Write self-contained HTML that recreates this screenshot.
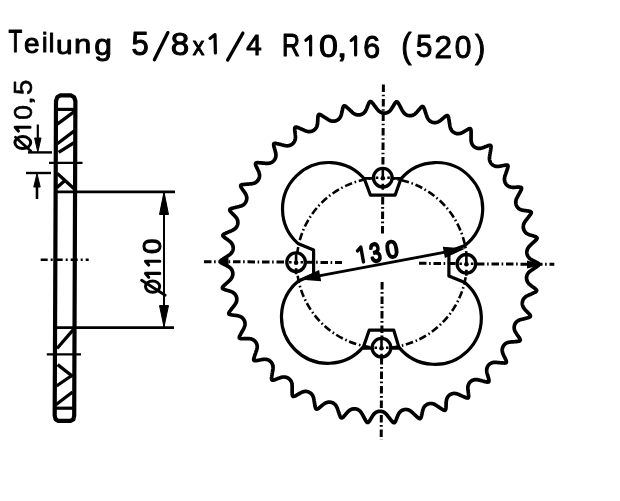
<!DOCTYPE html>
<html><head><meta charset="utf-8"><style>
html,body{margin:0;padding:0;background:#fff;}
svg{display:block;will-change:transform;}
text{font-family:"Liberation Sans",sans-serif;}
</style></head><body>
<svg width="620" height="501" viewBox="0 0 620 501">
<rect width="620" height="501" fill="#fff"/>
<g font-family="Liberation Sans" fill="#000"><text font-size="2048" transform="translate(8.50,52.30) scale(0.01097,0.01505)" stroke="#000" stroke-width="1.0" vector-effect="non-scaling-stroke" stroke-linejoin="round">T</text><text font-size="2048" transform="translate(24.01,53.04) scale(0.01363,0.01310)" stroke="#000" stroke-width="1.0" vector-effect="non-scaling-stroke" stroke-linejoin="round">e</text><text font-size="2048" transform="translate(41.93,52.10) scale(0.01222,0.01348)" stroke="#000" stroke-width="1.0" vector-effect="non-scaling-stroke" stroke-linejoin="round">i</text><text font-size="2048" transform="translate(48.71,52.10) scale(0.01222,0.01267)" stroke="#000" stroke-width="1.0" vector-effect="non-scaling-stroke" stroke-linejoin="round">l</text><text font-size="2048" transform="translate(56.06,53.84) scale(0.01460,0.01298)" stroke="#000" stroke-width="1.0" vector-effect="non-scaling-stroke" stroke-linejoin="round">u</text><text font-size="2048" transform="translate(74.04,53.10) scale(0.01517,0.01298)" stroke="#000" stroke-width="1.0" vector-effect="non-scaling-stroke" stroke-linejoin="round">n</text><text font-size="2048" transform="translate(94.16,55.46) scale(0.01553,0.01444)" stroke="#000" stroke-width="1.0" vector-effect="non-scaling-stroke" stroke-linejoin="round">g</text><text font-size="2048" transform="translate(131.56,54.78) scale(0.01514,0.01589)" stroke="#000" stroke-width="1.0" vector-effect="non-scaling-stroke" stroke-linejoin="round">5</text><text font-size="2048" transform="translate(170.66,55.19) scale(0.01623,0.01538)" stroke="#000" stroke-width="1.0" vector-effect="non-scaling-stroke" stroke-linejoin="round">8</text><text font-size="2048" transform="translate(192.84,54.70) scale(0.01134,0.01248)" stroke="#000" stroke-width="1.0" vector-effect="non-scaling-stroke" stroke-linejoin="round">x</text><text font-size="2048" transform="translate(246.36,54.70) scale(0.01357,0.01405)" stroke="#000" stroke-width="1.0" vector-effect="non-scaling-stroke" stroke-linejoin="round">4</text><text font-size="2048" transform="translate(282.06,55.50) scale(0.01217,0.01498)" stroke="#000" stroke-width="1.0" vector-effect="non-scaling-stroke" stroke-linejoin="round">R</text><text font-size="2048" transform="translate(318.97,56.50) scale(0.01665,0.01490)" stroke="#000" stroke-width="1.0" vector-effect="non-scaling-stroke" stroke-linejoin="round">0</text><text font-size="2048" transform="translate(336.43,56.71) scale(0.01940,0.01559)" stroke="#000" stroke-width="1.0" vector-effect="non-scaling-stroke" stroke-linejoin="round">,</text><text font-size="2048" transform="translate(363.36,57.79) scale(0.01481,0.01538)" stroke="#000" stroke-width="1.0" vector-effect="non-scaling-stroke" stroke-linejoin="round">6</text><text font-size="2048" transform="translate(401.28,57.83) scale(0.01510,0.01714)" stroke="#000" stroke-width="1.0" vector-effect="non-scaling-stroke" stroke-linejoin="round">(</text><text font-size="2048" transform="translate(416.03,57.30) scale(0.01432,0.01491)" stroke="#000" stroke-width="1.0" vector-effect="non-scaling-stroke" stroke-linejoin="round">5</text><text font-size="2048" transform="translate(434.51,58.20) scale(0.01543,0.01538)" stroke="#000" stroke-width="1.0" vector-effect="non-scaling-stroke" stroke-linejoin="round">2</text><text font-size="2048" transform="translate(454.83,58.39) scale(0.01461,0.01552)" stroke="#000" stroke-width="1.0" vector-effect="non-scaling-stroke" stroke-linejoin="round">0</text><text font-size="2048" transform="translate(475.02,58.17) scale(0.01510,0.01635)" stroke="#000" stroke-width="1.0" vector-effect="non-scaling-stroke" stroke-linejoin="round">)</text><path d="M210.0,38.4 L215.0,34.6 L215.4,53.0" fill="none" stroke="#000" stroke-width="3.2" stroke-linecap="round" stroke-linejoin="round"/><path d="M305.9,40.2 L310.6,36.3 L310.6,54.9" fill="none" stroke="#000" stroke-width="3.2" stroke-linecap="round" stroke-linejoin="round"/><path d="M351.2,40.4 L355.6,36.8 L355.6,55.0" fill="none" stroke="#000" stroke-width="3.2" stroke-linecap="round" stroke-linejoin="round"/><path d="M154.4,59.7 L167.9,32.6" fill="none" stroke="#000" stroke-width="3.3" stroke-linecap="round"/><path d="M227.6,60.1 L242.9,33.1" fill="none" stroke="#000" stroke-width="3.3" stroke-linecap="round"/></g>
<g stroke="#000" fill="#000"><path d="M56.0,101 L57.4,97.0 L60.5,95.3 L70.8,95.3 L74.0,97.0 L75.4,101 L74.2,415.5 L73.4,419.4 L70.5,420.8 L58.3,420.8 L55.6,419.4 L54.7,415.5 Z" fill="none" stroke-width="4.2" stroke-linejoin="round"/><line x1="56" y1="109.4" x2="75.5" y2="109.4" stroke-width="3.2" stroke-linecap="butt"/><line x1="49" y1="162.8" x2="82.5" y2="162.8" stroke-width="2.2" stroke-linecap="butt"/><line x1="56" y1="191.9" x2="175" y2="191.9" stroke-width="2.6" stroke-linecap="butt"/><line x1="55" y1="327.6" x2="174" y2="327.6" stroke-width="2.6" stroke-linecap="butt"/><line x1="46.8" y1="354.4" x2="81" y2="354.4" stroke-width="2.2" stroke-linecap="butt"/><line x1="55" y1="408.2" x2="74.5" y2="408.2" stroke-width="3.2" stroke-linecap="butt"/><line x1="57.3" y1="124.2" x2="75.3" y2="110.9" stroke-width="3.3" stroke-linecap="butt"/><line x1="57.3" y1="143.8" x2="75.3" y2="130.1" stroke-width="3.3" stroke-linecap="butt"/><line x1="58.6" y1="152.3" x2="75.2" y2="142.0" stroke-width="3.3" stroke-linecap="butt"/><line x1="57.3" y1="173.5" x2="75.5" y2="190.0" stroke-width="3.3" stroke-linecap="butt"/><line x1="56.7" y1="187.8" x2="65.5" y2="180.0" stroke-width="3.3" stroke-linecap="butt"/><line x1="73.3" y1="329.6" x2="57.0" y2="348.5" stroke-width="3.3" stroke-linecap="butt"/><line x1="57.6" y1="364.6" x2="72.8" y2="376.5" stroke-width="3.3" stroke-linecap="butt"/><line x1="56.5" y1="386.0" x2="72.5" y2="375.0" stroke-width="3.3" stroke-linecap="butt"/><line x1="55.8" y1="404.8" x2="72.6" y2="392.0" stroke-width="3.3" stroke-linecap="butt"/><line x1="40.7" y1="259.8" x2="88.7" y2="259.8" stroke-width="2.6" stroke-dasharray="7 3 2 3"/><line x1="164" y1="192" x2="164" y2="327" stroke-width="2.0" stroke-linecap="butt"/><path d="M164,192 L159.5,214.5 L168.5,214.5 Z"/><path d="M164,327 L159.5,305.5 L168.5,305.5 Z"/><line x1="28" y1="152.4" x2="52" y2="152.4" stroke-width="2.4" stroke-linecap="butt"/><line x1="26" y1="173" x2="51" y2="173" stroke-width="2.4" stroke-linecap="butt"/><line x1="37.8" y1="124.5" x2="37.8" y2="140" stroke-width="2.2" stroke-linecap="butt"/><path d="M37.8,152 L34.6,138 L41,138 Z"/><line x1="37" y1="186" x2="37" y2="199" stroke-width="2.6" stroke-linecap="butt"/><path d="M37,173.5 L33.8,187 L40.2,187 Z"/></g>
<g font-family="Liberation Sans" fill="#000"><text font-size="2048" transform="matrix(0,-0.01359,0.01214,0,160.56,253.89)" stroke="#000" stroke-width="1.2" vector-effect="non-scaling-stroke" stroke-linejoin="round">0</text><text font-size="2048" transform="matrix(0,-0.01287,0.01283,0,31.84,119.63)" stroke="#000" stroke-width="0.6" vector-effect="non-scaling-stroke" stroke-linejoin="round">0</text><text font-size="2048" transform="matrix(0,-0.01349,0.01302,0,31.84,95.01)" stroke="#000" stroke-width="0.6" vector-effect="non-scaling-stroke" stroke-linejoin="round">5</text><text font-size="2048" transform="matrix(0,-0.01493,0.00936,0,32.05,104.75)" stroke="#000" stroke-width="1.0" vector-effect="non-scaling-stroke" stroke-linejoin="round">,</text></g>
<ellipse cx="152.6" cy="286.6" rx="7.1" ry="5.6" fill="none" stroke="#000" stroke-width="3"/><path d="M141.6,280.2 L165.2,295.2" stroke="#000" stroke-width="2.8" stroke-linecap="round"/><ellipse cx="22.8" cy="142.6" rx="7.9" ry="6.0" fill="none" stroke="#000" stroke-width="3"/><path d="M15.5,137.2 L31.0,151.2" stroke="#000" stroke-width="2.8" stroke-linecap="round"/><path d="M148.7,265.0 L145.5,261.2 L159.8,261.2" fill="none" stroke="#000" stroke-width="3.1" stroke-linecap="round" stroke-linejoin="round"/><path d="M148.7,277.2 L145.5,273.4 L159.8,273.4" fill="none" stroke="#000" stroke-width="3.1" stroke-linecap="round" stroke-linejoin="round"/><path d="M18.4,131.1 L15.2,127.3 L30.0,127.3" fill="none" stroke="#000" stroke-width="3.1" stroke-linecap="round" stroke-linejoin="round"/>
<path d="M370.08,101.56 L370.52,101.49 L370.97,101.65 L371.44,102.00 L371.91,102.40 L372.38,102.96 L372.85,103.55 L373.32,104.08 L373.79,104.71 L374.25,105.34 L374.71,105.87 L375.17,106.50 L375.62,107.13 L376.07,107.67 L376.52,108.28 L376.96,108.88 L377.40,109.37 L377.83,109.91 L378.26,110.40 L378.69,110.78 L379.11,111.18 L379.53,111.53 L379.95,111.79 L380.36,112.06 L380.78,112.29 L381.19,112.46 L381.60,112.63 L382.01,112.77 L382.42,112.88 L382.83,112.97 L383.24,113.04 L383.64,113.08 L384.05,113.11 L384.46,113.11 L384.87,113.10 L385.28,113.06 L385.69,112.99 L386.10,112.92 L386.51,112.81 L386.93,112.67 L387.34,112.53 L387.76,112.33 L388.18,112.11 L388.60,111.88 L389.03,111.58 L389.46,111.22 L389.89,110.87 L390.33,110.40 L390.78,109.84 L391.23,109.31 L391.69,108.60 L392.16,107.83 L392.63,107.12 L393.12,106.26 L393.61,105.37 L394.10,104.62 L394.60,103.78 L395.10,103.01 L395.58,102.46 L396.06,101.98 L396.53,101.75 L396.97,101.76 L397.39,101.99 L397.79,102.42 L398.18,102.89 L398.56,103.52 L398.93,104.19 L399.30,104.79 L399.66,105.49 L400.01,106.19 L400.38,106.80 L400.72,107.50 L401.07,108.20 L401.42,108.80 L401.76,109.49 L402.10,110.15 L402.45,110.71 L402.79,111.32 L403.13,111.88 L403.49,112.32 L403.84,112.79 L404.19,113.20 L404.56,113.53 L404.93,113.87 L405.30,114.17 L405.67,114.40 L406.05,114.64 L406.43,114.86 L406.81,115.03 L407.20,115.19 L407.59,115.33 L407.99,115.44 L408.38,115.54 L408.78,115.61 L409.19,115.66 L409.60,115.69 L410.01,115.70 L410.43,115.70 L410.85,115.66 L411.28,115.59 L411.71,115.53 L412.15,115.41 L412.60,115.25 L413.05,115.11 L413.52,114.88 L414.00,114.60 L414.48,114.33 L415.00,113.94 L415.53,113.47 L416.06,113.02 L416.63,112.40 L417.22,111.72 L417.79,111.10 L418.41,110.33 L419.04,109.55 L419.64,108.89 L420.27,108.14 L420.89,107.47 L421.45,107.01 L422.00,106.63 L422.50,106.47 L422.93,106.56 L423.31,106.86 L423.63,107.35 L423.94,107.89 L424.21,108.57 L424.46,109.30 L424.73,109.95 L424.97,110.70 L425.20,111.45 L425.46,112.11 L425.69,112.86 L425.91,113.61 L426.16,114.26 L426.38,115.00 L426.61,115.71 L426.86,116.32 L427.10,116.98 L427.34,117.59 L427.62,118.09 L427.89,118.61 L428.18,119.08 L428.48,119.46 L428.79,119.86 L429.10,120.21 L429.43,120.51 L429.77,120.81 L430.10,121.09 L430.46,121.32 L430.81,121.55 L431.17,121.75 L431.54,121.93 L431.92,122.09 L432.30,122.23 L432.69,122.36 L433.09,122.45 L433.49,122.53 L433.90,122.60 L434.32,122.63 L434.76,122.64 L435.19,122.65 L435.65,122.61 L436.11,122.53 L436.58,122.46 L437.08,122.32 L437.60,122.13 L438.11,121.94 L438.68,121.64 L439.28,121.27 L439.87,120.92 L440.53,120.41 L441.22,119.83 L441.89,119.32 L442.63,118.67 L443.37,118.00 L444.07,117.46 L444.81,116.83 L445.53,116.27 L446.16,115.91 L446.76,115.62 L447.27,115.56 L447.68,115.72 L448.00,116.07 L448.24,116.61 L448.46,117.20 L448.61,117.91 L448.74,118.67 L448.90,119.36 L449.01,120.14 L449.12,120.92 L449.27,121.62 L449.37,122.39 L449.47,123.17 L449.61,123.86 L449.71,124.62 L449.81,125.36 L449.96,126.00 L450.09,126.69 L450.23,127.33 L450.42,127.87 L450.60,128.43 L450.81,128.94 L451.05,129.37 L451.28,129.81 L451.53,130.22 L451.81,130.57 L452.09,130.92 L452.38,131.25 L452.68,131.54 L452.99,131.82 L453.32,132.08 L453.65,132.32 L453.99,132.54 L454.35,132.74 L454.71,132.93 L455.08,133.10 L455.47,133.24 L455.86,133.38 L456.27,133.48 L456.70,133.56 L457.12,133.64 L457.57,133.68 L458.05,133.68 L458.52,133.69 L459.03,133.63 L459.57,133.53 L460.11,133.44 L460.71,133.24 L461.36,132.97 L462.00,132.72 L462.74,132.33 L463.51,131.88 L464.25,131.49 L465.08,130.97 L465.92,130.44 L466.69,130.02 L467.52,129.52 L468.32,129.09 L468.99,128.84 L469.63,128.66 L470.14,128.68 L470.52,128.91 L470.78,129.32 L470.93,129.88 L471.05,130.50 L471.08,131.23 L471.08,132.00 L471.13,132.70 L471.11,133.49 L471.09,134.28 L471.12,134.99 L471.09,135.77 L471.07,136.55 L471.09,137.25 L471.06,138.01 L471.05,138.76 L471.09,139.42 L471.10,140.12 L471.13,140.77 L471.23,141.34 L471.32,141.92 L471.44,142.45 L471.60,142.92 L471.76,143.39 L471.94,143.83 L472.16,144.22 L472.37,144.62 L472.60,144.99 L472.86,145.32 L473.12,145.65 L473.39,145.97 L473.68,146.25 L473.98,146.53 L474.29,146.79 L474.62,147.03 L474.96,147.26 L475.32,147.47 L475.68,147.66 L476.06,147.84 L476.47,147.99 L476.87,148.14 L477.31,148.25 L477.77,148.33 L478.23,148.42 L478.75,148.45 L479.29,148.44 L479.84,148.43 L480.46,148.34 L481.14,148.18 L481.81,148.04 L482.60,147.78 L483.43,147.46 L484.22,147.20 L485.12,146.83 L486.03,146.45 L486.86,146.16 L487.75,145.81 L488.60,145.52 L489.31,145.39 L489.96,145.32 L490.46,145.42 L490.80,145.71 L490.98,146.15 L491.04,146.73 L491.05,147.36 L490.96,148.08 L490.84,148.84 L490.77,149.54 L490.63,150.31 L490.48,151.08 L490.39,151.79 L490.24,152.55 L490.08,153.32 L489.99,154.01 L489.84,154.76 L489.70,155.49 L489.63,156.15 L489.53,156.83 L489.46,157.48 L489.46,158.06 L489.45,158.64 L489.48,159.19 L489.56,159.68 L489.64,160.17 L489.75,160.63 L489.90,161.05 L490.04,161.47 L490.21,161.88 L490.40,162.25 L490.60,162.62 L490.82,162.97 L491.06,163.30 L491.31,163.62 L491.57,163.93 L491.85,164.22 L492.15,164.50 L492.46,164.76 L492.79,165.02 L493.14,165.25 L493.51,165.47 L493.88,165.68 L494.29,165.86 L494.73,166.02 L495.17,166.19 L495.67,166.30 L496.21,166.38 L496.74,166.47 L497.37,166.48 L498.06,166.44 L498.75,166.41 L499.56,166.28 L500.42,166.11 L501.24,165.99 L502.18,165.77 L503.14,165.54 L504.00,165.40 L504.94,165.20 L505.82,165.06 L506.53,165.04 L507.19,165.08 L507.66,165.27 L507.94,165.61 L508.05,166.07 L508.01,166.66 L507.92,167.27 L507.72,167.97 L507.47,168.70 L507.29,169.38 L507.02,170.11 L506.75,170.84 L506.55,171.52 L506.27,172.25 L506.00,172.97 L505.79,173.64 L505.52,174.35 L505.26,175.05 L505.09,175.68 L504.88,176.34 L504.70,176.97 L504.61,177.54 L504.51,178.11 L504.44,178.65 L504.45,179.15 L504.45,179.64 L504.47,180.12 L504.55,180.56 L504.62,181.00 L504.72,181.42 L504.85,181.82 L504.99,182.22 L505.14,182.60 L505.32,182.97 L505.51,183.32 L505.73,183.67 L505.95,184.01 L506.20,184.33 L506.46,184.64 L506.74,184.95 L507.05,185.23 L507.38,185.51 L507.71,185.78 L508.08,186.03 L508.49,186.26 L508.89,186.49 L509.36,186.69 L509.88,186.86 L510.39,187.03 L511.01,187.14 L511.69,187.22 L512.36,187.31 L513.18,187.32 L514.06,187.29 L514.89,187.31 L515.85,187.25 L516.82,187.18 L517.69,187.19 L518.64,187.15 L519.53,187.15 L520.24,187.26 L520.87,187.41 L521.31,187.67 L521.53,188.05 L521.56,188.53 L521.43,189.10 L521.24,189.69 L520.92,190.34 L520.57,191.02 L520.28,191.65 L519.89,192.33 L519.51,193.01 L519.20,193.64 L518.81,194.32 L518.42,194.98 L518.12,195.61 L517.74,196.26 L517.37,196.91 L517.10,197.50 L516.78,198.12 L516.51,198.71 L516.33,199.25 L516.13,199.80 L515.98,200.32 L515.91,200.81 L515.83,201.30 L515.78,201.77 L515.78,202.21 L515.78,202.66 L515.81,203.09 L515.87,203.51 L515.94,203.92 L516.03,204.33 L516.15,204.72 L516.28,205.10 L516.43,205.48 L516.60,205.85 L516.79,206.21 L517.01,206.56 L517.23,206.91 L517.48,207.24 L517.76,207.57 L518.04,207.89 L518.38,208.20 L518.74,208.49 L519.10,208.79 L519.53,209.06 L520.01,209.31 L520.48,209.57 L521.07,209.79 L521.74,209.98 L522.39,210.18 L523.19,210.32 L524.06,210.45 L524.87,210.60 L525.82,210.70 L526.80,210.80 L527.65,210.95 L528.59,211.08 L529.47,211.23 L530.14,211.45 L530.74,211.71 L531.13,212.04 L531.29,212.45 L531.25,212.92 L531.02,213.46 L530.74,214.01 L530.33,214.61 L529.87,215.21 L529.48,215.79 L529.00,216.40 L528.51,217.00 L528.11,217.58 L527.62,218.17 L527.13,218.77 L526.73,219.33 L526.25,219.91 L525.79,220.49 L525.43,221.03 L525.02,221.58 L524.66,222.12 L524.39,222.62 L524.12,223.13 L523.88,223.62 L523.73,224.09 L523.58,224.56 L523.45,225.02 L523.39,225.46 L523.32,225.90 L523.28,226.33 L523.28,226.75 L523.28,227.17 L523.31,227.59 L523.36,227.99 L523.43,228.39 L523.52,228.79 L523.63,229.18 L523.76,229.57 L523.92,229.95 L524.08,230.34 L524.28,230.71 L524.50,231.08 L524.73,231.44 L525.01,231.80 L525.32,232.15 L525.63,232.51 L526.01,232.85 L526.44,233.18 L526.87,233.51 L527.42,233.83 L528.05,234.13 L528.65,234.43 L529.42,234.71 L530.26,234.98 L531.04,235.27 L531.96,235.53 L532.91,235.79 L533.72,236.08 L534.63,236.36 L535.47,236.66 L536.10,237.00 L536.66,237.35 L536.99,237.74 L537.08,238.17 L536.97,238.64 L536.66,239.13 L536.30,239.63 L535.80,240.15 L535.26,240.67 L534.78,241.17 L534.21,241.69 L533.64,242.20 L533.16,242.70 L532.58,243.21 L532.01,243.72 L531.52,244.20 L530.96,244.70 L530.42,245.19 L529.98,245.66 L529.49,246.14 L529.05,246.61 L528.71,247.06 L528.36,247.52 L528.05,247.97 L527.83,248.40 L527.61,248.84 L527.42,249.27 L527.28,249.69 L527.15,250.12 L527.04,250.54 L526.97,250.96 L526.91,251.37 L526.88,251.78 L526.87,252.19 L526.87,252.60 L526.90,253.01 L526.95,253.42 L527.02,253.82 L527.11,254.23 L527.22,254.63 L527.36,255.03 L527.52,255.43 L527.69,255.83 L527.91,256.23 L528.17,256.64 L528.41,257.04 L528.74,257.44 L529.12,257.84 L529.49,258.24 L529.98,258.64 L530.55,259.04 L531.11,259.45 L531.83,259.85 L532.61,260.26 L533.33,260.67 L534.21,261.09 L535.10,261.51 L535.86,261.93 L536.72,262.36 L537.50,262.80 L538.07,263.23 L538.57,263.68 L538.83,264.12 L538.86,264.56 L538.67,265.00 L538.30,265.43 L537.87,265.87 L537.30,266.29 L536.68,266.72 L536.14,267.14 L535.49,267.55 L534.85,267.96 L534.29,268.37 L533.65,268.78 L533.01,269.18 L532.46,269.58 L531.83,269.98 L531.21,270.37 L530.71,270.76 L530.15,271.15 L529.65,271.54 L529.25,271.93 L528.83,272.32 L528.46,272.71 L528.18,273.11 L527.89,273.50 L527.63,273.89 L527.44,274.29 L527.24,274.68 L527.07,275.08 L526.94,275.48 L526.82,275.88 L526.72,276.28 L526.65,276.68 L526.59,277.09 L526.56,277.50 L526.54,277.91 L526.55,278.32 L526.58,278.73 L526.62,279.15 L526.70,279.57 L526.81,279.99 L526.91,280.42 L527.07,280.85 L527.26,281.29 L527.44,281.72 L527.70,282.17 L528.01,282.63 L528.32,283.09 L528.75,283.57 L529.25,284.06 L529.73,284.56 L530.38,285.08 L531.10,285.61 L531.74,286.14 L532.54,286.69 L533.36,287.26 L534.05,287.81 L534.83,288.37 L535.54,288.94 L536.03,289.46 L536.46,289.98 L536.65,290.46 L536.61,290.90 L536.36,291.31 L535.92,291.67 L535.43,292.03 L534.80,292.35 L534.13,292.66 L533.53,292.99 L532.83,293.29 L532.13,293.58 L531.52,293.90 L530.82,294.19 L530.13,294.47 L529.52,294.78 L528.84,295.06 L528.18,295.34 L527.62,295.65 L527.01,295.94 L526.45,296.23 L525.99,296.55 L525.52,296.87 L525.10,297.19 L524.76,297.53 L524.41,297.87 L524.10,298.21 L523.85,298.57 L523.59,298.93 L523.36,299.29 L523.18,299.66 L522.99,300.04 L522.84,300.42 L522.70,300.80 L522.59,301.19 L522.49,301.59 L522.41,301.99 L522.36,302.39 L522.33,302.81 L522.30,303.22 L522.31,303.65 L522.35,304.09 L522.39,304.52 L522.48,304.98 L522.60,305.44 L522.71,305.90 L522.90,306.39 L523.14,306.89 L523.37,307.40 L523.72,307.94 L524.14,308.51 L524.54,309.08 L525.10,309.70 L525.72,310.34 L526.28,310.97 L526.98,311.66 L527.70,312.35 L528.29,313.01 L528.98,313.70 L529.59,314.37 L530.00,314.97 L530.34,315.55 L530.45,316.06 L530.34,316.49 L530.03,316.84 L529.55,317.13 L529.01,317.39 L528.33,317.61 L527.62,317.80 L526.98,318.02 L526.24,318.20 L525.51,318.37 L524.85,318.58 L524.12,318.74 L523.39,318.91 L522.74,319.11 L522.02,319.27 L521.32,319.44 L520.72,319.64 L520.08,319.83 L519.48,320.02 L518.98,320.26 L518.47,320.49 L518.00,320.74 L517.61,321.02 L517.21,321.29 L516.85,321.58 L516.54,321.89 L516.24,322.19 L515.95,322.51 L515.71,322.85 L515.47,323.18 L515.25,323.53 L515.06,323.89 L514.88,324.25 L514.73,324.63 L514.59,325.01 L514.47,325.40 L514.37,325.80 L514.28,326.20 L514.23,326.63 L514.19,327.06 L514.16,327.50 L514.18,327.96 L514.22,328.43 L514.26,328.91 L514.37,329.42 L514.53,329.96 L514.68,330.49 L514.93,331.08 L515.26,331.71 L515.57,332.34 L516.02,333.05 L516.53,333.79 L516.98,334.50 L517.57,335.29 L518.17,336.09 L518.65,336.84 L519.22,337.63 L519.72,338.40 L520.02,339.06 L520.26,339.69 L520.30,340.21 L520.12,340.61 L519.76,340.91 L519.23,341.11 L518.66,341.28 L517.96,341.37 L517.22,341.44 L516.55,341.55 L515.79,341.60 L515.04,341.65 L514.36,341.74 L513.61,341.78 L512.86,341.82 L512.19,341.91 L511.45,341.95 L510.73,341.99 L510.10,342.09 L509.44,342.16 L508.81,342.26 L508.28,342.41 L507.73,342.55 L507.23,342.71 L506.80,342.92 L506.36,343.12 L505.96,343.34 L505.61,343.59 L505.25,343.85 L504.92,344.11 L504.62,344.40 L504.33,344.69 L504.06,344.99 L503.82,345.31 L503.58,345.64 L503.37,345.98 L503.17,346.33 L502.98,346.70 L502.82,347.08 L502.67,347.46 L502.55,347.87 L502.44,348.29 L502.34,348.71 L502.28,349.17 L502.25,349.64 L502.21,350.12 L502.24,350.64 L502.30,351.19 L502.36,351.74 L502.52,352.37 L502.74,353.05 L502.94,353.71 L503.27,354.48 L503.66,355.30 L503.99,356.08 L504.44,356.95 L504.91,357.85 L505.26,358.66 L505.69,359.54 L506.06,360.37 L506.26,361.08 L506.39,361.74 L506.34,362.25 L506.10,362.62 L505.69,362.85 L505.14,362.95 L504.54,363.03 L503.83,363.00 L503.09,362.95 L502.41,362.94 L501.65,362.86 L500.89,362.78 L500.21,362.76 L499.45,362.67 L498.70,362.58 L498.02,362.55 L497.29,362.47 L496.57,362.39 L495.93,362.38 L495.26,362.34 L494.62,362.33 L494.07,362.39 L493.51,362.43 L492.98,362.51 L492.52,362.64 L492.05,362.77 L491.62,362.92 L491.22,363.10 L490.83,363.29 L490.46,363.50 L490.12,363.73 L489.78,363.97 L489.46,364.22 L489.16,364.49 L488.88,364.78 L488.61,365.08 L488.35,365.39 L488.11,365.72 L487.89,366.06 L487.67,366.41 L487.48,366.79 L487.31,367.19 L487.14,367.59 L487.00,368.03 L486.89,368.49 L486.78,368.95 L486.72,369.47 L486.69,370.02 L486.66,370.58 L486.71,371.22 L486.81,371.92 L486.91,372.61 L487.11,373.43 L487.36,374.29 L487.56,375.12 L487.86,376.05 L488.17,377.01 L488.39,377.87 L488.67,378.81 L488.89,379.69 L488.97,380.42 L489.00,381.09 L488.86,381.59 L488.56,381.91 L488.12,382.06 L487.55,382.08 L486.95,382.05 L486.25,381.90 L485.52,381.73 L484.84,381.60 L484.11,381.40 L483.37,381.19 L482.69,381.05 L481.96,380.84 L481.23,380.63 L480.56,380.48 L479.84,380.28 L479.14,380.08 L478.51,379.97 L477.85,379.81 L477.22,379.69 L476.66,379.66 L476.10,379.61 L475.56,379.59 L475.08,379.64 L474.60,379.69 L474.14,379.76 L473.72,379.88 L473.30,380.00 L472.90,380.14 L472.52,380.31 L472.15,380.49 L471.79,380.69 L471.45,380.91 L471.12,381.14 L470.80,381.39 L470.49,381.65 L470.20,381.93 L469.92,382.23 L469.65,382.54 L469.40,382.89 L469.16,383.25 L468.92,383.61 L468.72,384.02 L468.53,384.46 L468.34,384.89 L468.19,385.39 L468.07,385.93 L467.95,386.47 L467.89,387.12 L467.88,387.82 L467.86,388.52 L467.92,389.36 L468.02,390.25 L468.08,391.09 L468.23,392.07 L468.38,393.06 L468.45,393.95 L468.57,394.92 L468.65,395.83 L468.61,396.55 L468.52,397.22 L468.30,397.69 L467.95,397.95 L467.49,398.03 L466.92,397.95 L466.33,397.82 L465.66,397.56 L464.97,397.26 L464.32,397.03 L463.62,396.70 L462.92,396.38 L462.27,396.13 L461.58,395.80 L460.89,395.46 L460.25,395.21 L459.58,394.89 L458.91,394.58 L458.30,394.36 L457.67,394.10 L457.07,393.87 L456.52,393.74 L455.97,393.60 L455.44,393.49 L454.96,393.47 L454.47,393.43 L454.01,393.43 L453.57,393.47 L453.13,393.52 L452.71,393.59 L452.30,393.70 L451.90,393.81 L451.52,393.94 L451.14,394.10 L450.78,394.27 L450.42,394.47 L450.07,394.67 L449.73,394.90 L449.41,395.16 L449.09,395.42 L448.78,395.71 L448.48,396.03 L448.19,396.35 L447.92,396.71 L447.66,397.11 L447.40,397.51 L447.17,397.98 L446.96,398.49 L446.75,399.00 L446.59,399.63 L446.46,400.32 L446.32,401.00 L446.24,401.84 L446.20,402.74 L446.12,403.58 L446.10,404.57 L446.08,405.57 L446.01,406.45 L445.97,407.43 L445.90,408.34 L445.73,409.05 L445.53,409.69 L445.24,410.12 L444.85,410.32 L444.38,410.32 L443.83,410.14 L443.26,409.91 L442.64,409.55 L442.00,409.14 L441.40,408.80 L440.76,408.36 L440.12,407.93 L439.52,407.57 L438.89,407.13 L438.26,406.69 L437.67,406.33 L437.06,405.90 L436.45,405.48 L435.88,405.17 L435.30,404.80 L434.74,404.48 L434.22,404.26 L433.70,404.03 L433.19,403.84 L432.72,403.73 L432.24,403.61 L431.78,403.53 L431.34,403.51 L430.89,403.48 L430.46,403.48 L430.05,403.52 L429.63,403.56 L429.23,403.63 L428.83,403.72 L428.44,403.83 L428.05,403.96 L427.67,404.11 L427.30,404.28 L426.94,404.47 L426.57,404.67 L426.22,404.91 L425.88,405.18 L425.53,405.44 L425.20,405.76 L424.88,406.11 L424.56,406.46 L424.25,406.88 L423.96,407.35 L423.67,407.82 L423.40,408.41 L423.16,409.08 L422.91,409.72 L422.70,410.54 L422.50,411.42 L422.29,412.23 L422.10,413.20 L421.92,414.19 L421.70,415.05 L421.50,416.00 L421.28,416.88 L421.00,417.56 L420.70,418.16 L420.34,418.53 L419.92,418.67 L419.45,418.59 L418.94,418.32 L418.41,418.00 L417.86,417.54 L417.29,417.03 L416.75,416.59 L416.19,416.06 L415.63,415.52 L415.10,415.07 L414.54,414.53 L414.00,413.99 L413.47,413.54 L412.93,413.01 L412.40,412.50 L411.89,412.10 L411.38,411.64 L410.87,411.23 L410.39,410.93 L409.91,410.61 L409.44,410.34 L408.99,410.15 L408.54,409.96 L408.10,409.80 L407.66,409.71 L407.23,409.61 L406.80,409.53 L406.39,409.50 L405.97,409.48 L405.56,409.47 L405.15,409.50 L404.74,409.54 L404.34,409.61 L403.94,409.69 L403.54,409.80 L403.15,409.93 L402.76,410.07 L402.37,410.25 L401.99,410.45 L401.60,410.65 L401.22,410.91 L400.84,411.21 L400.47,411.49 L400.10,411.86 L399.73,412.28 L399.36,412.69 L399.00,413.23 L398.65,413.84 L398.30,414.44 L397.96,415.21 L397.62,416.04 L397.27,416.81 L396.93,417.74 L396.59,418.68 L396.23,419.49 L395.87,420.40 L395.51,421.23 L395.12,421.85 L394.72,422.40 L394.30,422.70 L393.86,422.77 L393.41,422.61 L392.95,422.26 L392.48,421.86 L392.01,421.31 L391.54,420.72 L391.07,420.20 L390.60,419.58 L390.14,418.96 L389.68,418.42 L389.23,417.80 L388.77,417.17 L388.33,416.65 L387.88,416.04 L387.44,415.44 L387.00,414.96 L386.57,414.43 L386.14,413.94 L385.71,413.56 L385.29,413.17 L384.87,412.82 L384.45,412.56 L384.04,412.30 L383.62,412.07 L383.21,411.90 L382.80,411.73 L382.39,411.59 L381.98,411.49 L381.57,411.40 L381.16,411.33 L380.76,411.29 L380.35,411.26 L379.94,411.26 L379.53,411.27 L379.12,411.31 L378.71,411.38 L378.30,411.45 L377.89,411.56 L377.47,411.70 L377.06,411.84 L376.64,412.03 L376.22,412.26 L375.79,412.48 L375.37,412.78 L374.94,413.13 L374.50,413.48 L374.06,413.95 L373.61,414.50 L373.16,415.03 L372.70,415.73 L372.22,416.50 L371.75,417.20 L371.26,418.05 L370.77,418.93 L370.28,419.67 L369.78,420.51 L369.28,421.27 L368.79,421.82 L368.31,422.28 L367.85,422.52 L367.40,422.51 L366.98,422.28 L366.58,421.86 L366.18,421.39 L365.81,420.77 L365.44,420.11 L365.06,419.52 L364.70,418.83 L364.35,418.14 L363.98,417.54 L363.63,416.84 L363.29,416.15 L362.93,415.56 L362.59,414.88 L362.25,414.23 L361.90,413.68 L361.56,413.08 L361.21,412.53 L360.85,412.09 L360.50,411.63 L360.14,411.22 L359.77,410.90 L359.40,410.57 L359.03,410.27 L358.65,410.04 L358.27,409.80 L357.89,409.60 L357.50,409.43 L357.11,409.27 L356.72,409.13 L356.32,409.03 L355.92,408.93 L355.52,408.86 L355.11,408.81 L354.70,408.78 L354.28,408.78 L353.86,408.78 L353.44,408.83 L353.00,408.89 L352.57,408.96 L352.13,409.08 L351.67,409.24 L351.22,409.39 L350.75,409.61 L350.26,409.89 L349.78,410.16 L349.26,410.55 L348.73,411.02 L348.19,411.47 L347.62,412.08 L347.02,412.76 L346.44,413.37 L345.82,414.14 L345.18,414.92 L344.58,415.57 L343.94,416.31 L343.32,416.99 L342.75,417.44 L342.20,417.83 L341.70,417.98 L341.26,417.90 L340.88,417.61 L340.55,417.13 L340.24,416.60 L339.97,415.92 L339.71,415.21 L339.44,414.56 L339.19,413.82 L338.96,413.08 L338.69,412.43 L338.46,411.69 L338.23,410.96 L337.98,410.31 L337.76,409.59 L337.53,408.88 L337.27,408.28 L337.03,407.64 L336.78,407.04 L336.50,406.54 L336.22,406.03 L335.94,405.57 L335.62,405.19 L335.31,404.81 L335.00,404.46 L334.66,404.16 L334.32,403.87 L333.98,403.60 L333.62,403.37 L333.26,403.15 L332.90,402.95 L332.52,402.78 L332.14,402.63 L331.75,402.49 L331.36,402.37 L330.95,402.28 L330.54,402.21 L330.13,402.14 L329.70,402.11 L329.26,402.11 L328.82,402.10 L328.36,402.15 L327.88,402.23 L327.41,402.30 L326.91,402.45 L326.38,402.64 L325.86,402.83 L325.28,403.13 L324.68,403.50 L324.07,403.86 L323.40,404.37 L322.70,404.94 L322.03,405.45 L321.28,406.10 L320.53,406.77 L319.82,407.31 L319.07,407.94 L318.35,408.50 L317.70,408.86 L317.09,409.15 L316.58,409.22 L316.16,409.07 L315.83,408.71 L315.58,408.19 L315.36,407.61 L315.20,406.90 L315.07,406.16 L314.90,405.48 L314.78,404.71 L314.67,403.94 L314.52,403.25 L314.41,402.49 L314.31,401.72 L314.16,401.04 L314.06,400.30 L313.95,399.56 L313.80,398.93 L313.66,398.25 L313.52,397.62 L313.32,397.09 L313.13,396.54 L312.92,396.04 L312.68,395.61 L312.43,395.18 L312.18,394.78 L311.89,394.44 L311.61,394.09 L311.31,393.77 L311.00,393.49 L310.68,393.21 L310.35,392.96 L310.01,392.73 L309.66,392.51 L309.29,392.31 L308.92,392.13 L308.54,391.97 L308.14,391.83 L307.74,391.70 L307.33,391.60 L306.89,391.53 L306.46,391.45 L305.99,391.42 L305.51,391.42 L305.03,391.41 L304.51,391.48 L303.96,391.58 L303.41,391.68 L302.79,391.88 L302.13,392.15 L301.48,392.41 L300.73,392.80 L299.94,393.25 L299.19,393.64 L298.34,394.16 L297.49,394.70 L296.70,395.12 L295.85,395.62 L295.05,396.05 L294.35,396.30 L293.70,396.48 L293.18,396.47 L292.79,396.25 L292.52,395.85 L292.36,395.29 L292.24,394.68 L292.20,393.96 L292.19,393.20 L292.14,392.50 L292.15,391.73 L292.17,390.95 L292.13,390.25 L292.15,389.48 L292.17,388.70 L292.14,388.01 L292.16,387.26 L292.18,386.52 L292.13,385.87 L292.11,385.18 L292.07,384.53 L291.96,383.97 L291.87,383.40 L291.74,382.87 L291.57,382.41 L291.40,381.95 L291.21,381.51 L290.99,381.13 L290.77,380.74 L290.53,380.38 L290.26,380.05 L289.99,379.72 L289.71,379.42 L289.41,379.13 L289.10,378.86 L288.77,378.61 L288.44,378.37 L288.08,378.15 L287.72,377.95 L287.34,377.75 L286.94,377.59 L286.53,377.44 L286.11,377.30 L285.66,377.19 L285.18,377.11 L284.71,377.03 L284.18,377.00 L283.62,377.02 L283.06,377.02 L282.42,377.12 L281.72,377.28 L281.03,377.42 L280.23,377.69 L279.38,378.01 L278.57,378.27 L277.65,378.65 L276.71,379.03 L275.86,379.32 L274.95,379.67 L274.08,379.97 L273.35,380.10 L272.68,380.17 L272.16,380.07 L271.81,379.79 L271.62,379.36 L271.55,378.78 L271.53,378.16 L271.61,377.44 L271.73,376.69 L271.79,376.00 L271.93,375.23 L272.07,374.47 L272.15,373.77 L272.30,373.01 L272.45,372.26 L272.54,371.57 L272.68,370.83 L272.82,370.10 L272.88,369.45 L272.98,368.77 L273.04,368.13 L273.03,367.56 L273.03,366.98 L273.00,366.44 L272.90,365.96 L272.81,365.47 L272.70,365.01 L272.54,364.59 L272.38,364.18 L272.21,363.78 L272.00,363.41 L271.79,363.05 L271.56,362.70 L271.31,362.37 L271.05,362.05 L270.77,361.75 L270.47,361.46 L270.16,361.18 L269.83,360.93 L269.50,360.67 L269.13,360.44 L268.74,360.23 L268.36,360.02 L267.93,359.84 L267.47,359.69 L267.02,359.53 L266.50,359.42 L265.94,359.34 L265.39,359.26 L264.74,359.25 L264.02,359.29 L263.32,359.32 L262.48,359.45 L261.59,359.63 L260.74,359.75 L259.77,359.97 L258.79,360.20 L257.90,360.35 L256.94,360.54 L256.03,360.69 L255.29,360.71 L254.61,360.67 L254.12,360.49 L253.82,360.16 L253.70,359.69 L253.73,359.11 L253.81,358.50 L254.01,357.81 L254.25,357.08 L254.43,356.41 L254.70,355.68 L254.96,354.95 L255.16,354.28 L255.43,353.55 L255.71,352.83 L255.90,352.17 L256.17,351.46 L256.43,350.76 L256.59,350.13 L256.80,349.48 L256.97,348.85 L257.05,348.29 L257.15,347.72 L257.21,347.18 L257.19,346.69 L257.19,346.20 L257.15,345.73 L257.06,345.29 L256.98,344.85 L256.87,344.43 L256.73,344.03 L256.58,343.64 L256.41,343.26 L256.22,342.90 L256.01,342.54 L255.79,342.20 L255.55,341.86 L255.28,341.54 L255.00,341.23 L254.71,340.93 L254.39,340.64 L254.04,340.37 L253.69,340.10 L253.30,339.86 L252.88,339.63 L252.45,339.40 L251.96,339.20 L251.43,339.04 L250.89,338.86 L250.25,338.75 L249.54,338.68 L248.84,338.59 L247.99,338.58 L247.08,338.61 L246.23,338.60 L245.23,338.66 L244.22,338.72 L243.32,338.72 L242.34,338.76 L241.42,338.76 L240.68,338.65 L240.02,338.50 L239.57,338.24 L239.33,337.87 L239.28,337.39 L239.42,336.82 L239.60,336.24 L239.91,335.58 L240.26,334.91 L240.56,334.27 L240.94,333.60 L241.32,332.92 L241.63,332.29 L242.02,331.62 L242.41,330.95 L242.71,330.33 L243.10,329.68 L243.46,329.03 L243.73,328.44 L244.05,327.83 L244.32,327.24 L244.49,326.70 L244.69,326.15 L244.83,325.63 L244.90,325.14 L244.97,324.66 L245.02,324.19 L245.00,323.74 L244.99,323.30 L244.96,322.86 L244.88,322.45 L244.80,322.04 L244.70,321.63 L244.57,321.24 L244.43,320.86 L244.26,320.48 L244.08,320.12 L243.88,319.76 L243.65,319.41 L243.41,319.06 L243.14,318.73 L242.84,318.40 L242.55,318.08 L242.20,317.77 L241.82,317.48 L241.44,317.18 L240.99,316.91 L240.49,316.66 L239.99,316.40 L239.37,316.19 L238.68,316.00 L238.01,315.80 L237.17,315.65 L236.27,315.53 L235.43,315.38 L234.44,315.28 L233.43,315.18 L232.55,315.03 L231.57,314.90 L230.66,314.75 L229.95,314.53 L229.32,314.28 L228.92,313.95 L228.75,313.54 L228.78,313.06 L229.01,312.52 L229.28,311.97 L229.70,311.38 L230.16,310.77 L230.56,310.19 L231.05,309.59 L231.54,308.99 L231.95,308.41 L232.44,307.82 L232.94,307.22 L233.35,306.66 L233.83,306.08 L234.30,305.50 L234.67,304.96 L235.08,304.41 L235.45,303.87 L235.71,303.37 L235.99,302.86 L236.22,302.37 L236.37,301.90 L236.53,301.43 L236.65,300.98 L236.71,300.53 L236.77,300.09 L236.81,299.66 L236.80,299.24 L236.79,298.82 L236.76,298.41 L236.70,298.00 L236.62,297.60 L236.52,297.20 L236.40,296.81 L236.26,296.42 L236.09,296.04 L235.92,295.66 L235.71,295.29 L235.47,294.92 L235.23,294.55 L234.94,294.19 L234.61,293.84 L234.29,293.49 L233.89,293.15 L233.44,292.82 L232.99,292.48 L232.42,292.17 L231.77,291.87 L231.14,291.57 L230.34,291.29 L229.47,291.02 L228.66,290.73 L227.70,290.47 L226.73,290.21 L225.88,289.91 L224.93,289.63 L224.06,289.34 L223.41,289.00 L222.83,288.65 L222.48,288.26 L222.38,287.83 L222.50,287.36 L222.81,286.87 L223.17,286.37 L223.68,285.85 L224.24,285.33 L224.73,284.83 L225.31,284.31 L225.90,283.79 L226.40,283.30 L226.99,282.79 L227.58,282.28 L228.07,281.80 L228.65,281.30 L229.21,280.81 L229.66,280.34 L230.16,279.86 L230.61,279.39 L230.95,278.93 L231.31,278.48 L231.63,278.03 L231.85,277.60 L232.08,277.16 L232.28,276.73 L232.41,276.31 L232.55,275.88 L232.66,275.46 L232.72,275.04 L232.78,274.63 L232.82,274.22 L232.83,273.81 L232.82,273.40 L232.79,272.99 L232.74,272.58 L232.66,272.18 L232.56,271.77 L232.45,271.37 L232.31,270.97 L232.13,270.57 L231.96,270.17 L231.73,269.77 L231.47,269.36 L231.21,268.96 L230.87,268.56 L230.48,268.16 L230.10,267.76 L229.58,267.36 L229.00,266.96 L228.42,266.55 L227.68,266.15 L226.87,265.74 L226.12,265.33 L225.22,264.91 L224.30,264.49 L223.51,264.07 L222.63,263.64 L221.82,263.20 L221.23,262.77 L220.72,262.32 L220.44,261.88 L220.41,261.44 L220.61,261.00 L221.00,260.57 L221.44,260.13 L222.03,259.71 L222.67,259.28 L223.23,258.86 L223.90,258.45 L224.56,258.04 L225.14,257.63 L225.80,257.22 L226.47,256.82 L227.04,256.42 L227.69,256.02 L228.32,255.63 L228.85,255.24 L229.42,254.85 L229.95,254.46 L230.36,254.07 L230.79,253.68 L231.18,253.29 L231.47,252.89 L231.77,252.50 L232.04,252.11 L232.24,251.71 L232.45,251.32 L232.62,250.92 L232.76,250.52 L232.89,250.12 L232.99,249.72 L233.07,249.32 L233.13,248.91 L233.17,248.50 L233.19,248.09 L233.18,247.68 L233.15,247.27 L233.11,246.85 L233.03,246.43 L232.93,246.01 L232.83,245.58 L232.67,245.15 L232.48,244.71 L232.29,244.28 L232.02,243.83 L231.70,243.37 L231.39,242.91 L230.95,242.43 L230.44,241.94 L229.94,241.44 L229.28,240.92 L228.55,240.39 L227.88,239.86 L227.06,239.30 L226.22,238.74 L225.52,238.19 L224.72,237.62 L223.99,237.06 L223.48,236.53 L223.05,236.02 L222.86,235.53 L222.90,235.09 L223.17,234.69 L223.62,234.33 L224.13,233.97 L224.79,233.65 L225.49,233.34 L226.12,233.01 L226.84,232.71 L227.57,232.41 L228.20,232.10 L228.93,231.81 L229.65,231.52 L230.28,231.22 L230.99,230.94 L231.68,230.65 L232.26,230.35 L232.89,230.06 L233.48,229.76 L233.95,229.44 L234.44,229.13 L234.89,228.80 L235.24,228.46 L235.61,228.13 L235.93,227.78 L236.20,227.42 L236.47,227.07 L236.71,226.70 L236.91,226.33 L237.11,225.96 L237.28,225.58 L237.42,225.19 L237.55,224.80 L237.65,224.41 L237.74,224.01 L237.80,223.60 L237.84,223.18 L237.87,222.77 L237.87,222.34 L237.84,221.90 L237.81,221.47 L237.72,221.01 L237.61,220.55 L237.49,220.09 L237.31,219.60 L237.07,219.10 L236.84,218.59 L236.49,218.05 L236.06,217.48 L235.66,216.91 L235.09,216.29 L234.46,215.64 L233.89,215.01 L233.17,214.33 L232.44,213.63 L231.84,212.98 L231.14,212.29 L230.52,211.61 L230.11,211.01 L229.77,210.43 L229.66,209.92 L229.78,209.49 L230.11,209.14 L230.62,208.85 L231.18,208.58 L231.88,208.37 L232.62,208.17 L233.29,207.96 L234.06,207.78 L234.82,207.60 L235.50,207.40 L236.27,207.23 L237.03,207.06 L237.70,206.86 L238.45,206.70 L239.18,206.53 L239.80,206.33 L240.47,206.14 L241.10,205.94 L241.62,205.70 L242.16,205.47 L242.65,205.23 L243.06,204.95 L243.47,204.67 L243.85,204.38 L244.18,204.07 L244.50,203.76 L244.80,203.44 L245.06,203.11 L245.31,202.77 L245.55,202.42 L245.75,202.07 L245.94,201.70 L246.11,201.33 L246.26,200.94 L246.39,200.55 L246.50,200.15 L246.60,199.74 L246.67,199.32 L246.71,198.88 L246.75,198.45 L246.75,197.98 L246.71,197.51 L246.68,197.03 L246.57,196.52 L246.42,195.98 L246.28,195.44 L246.03,194.85 L245.70,194.22 L245.40,193.59 L244.94,192.88 L244.42,192.14 L243.97,191.42 L243.38,190.63 L242.77,189.82 L242.29,189.08 L241.72,188.28 L241.22,187.51 L240.91,186.85 L240.68,186.22 L240.65,185.70 L240.84,185.29 L241.22,184.99 L241.77,184.79 L242.37,184.62 L243.10,184.52 L243.86,184.45 L244.56,184.34 L245.35,184.29 L246.13,184.24 L246.83,184.15 L247.61,184.10 L248.39,184.06 L249.09,183.98 L249.85,183.94 L250.60,183.89 L251.25,183.79 L251.94,183.71 L252.59,183.62 L253.15,183.46 L253.71,183.32 L254.24,183.16 L254.69,182.95 L255.14,182.74 L255.57,182.52 L255.94,182.26 L256.31,182.01 L256.66,181.74 L256.97,181.45 L257.28,181.16 L257.56,180.85 L257.82,180.53 L258.07,180.20 L258.30,179.86 L258.52,179.50 L258.71,179.14 L258.88,178.76 L259.05,178.37 L259.19,177.96 L259.30,177.53 L259.41,177.11 L259.48,176.65 L259.53,176.17 L259.58,175.69 L259.56,175.17 L259.50,174.61 L259.45,174.06 L259.30,173.43 L259.08,172.75 L258.88,172.08 L258.55,171.30 L258.17,170.48 L257.84,169.70 L257.39,168.82 L256.92,167.92 L256.57,167.10 L256.14,166.22 L255.77,165.38 L255.58,164.67 L255.45,164.01 L255.51,163.49 L255.77,163.12 L256.19,162.89 L256.77,162.78 L257.39,162.70 L258.12,162.72 L258.89,162.77 L259.59,162.78 L260.37,162.85 L261.16,162.93 L261.86,162.95 L262.64,163.04 L263.42,163.12 L264.11,163.15 L264.87,163.23 L265.62,163.31 L266.28,163.31 L266.97,163.35 L267.63,163.36 L268.20,163.30 L268.78,163.25 L269.33,163.17 L269.80,163.04 L270.29,162.91 L270.74,162.75 L271.15,162.56 L271.56,162.37 L271.94,162.16 L272.30,161.92 L272.65,161.68 L272.98,161.42 L273.29,161.15 L273.59,160.86 L273.87,160.56 L274.14,160.24 L274.40,159.91 L274.63,159.56 L274.86,159.20 L275.06,158.82 L275.24,158.42 L275.42,158.01 L275.57,157.57 L275.69,157.10 L275.82,156.64 L275.89,156.11 L275.92,155.55 L275.96,154.99 L275.91,154.34 L275.82,153.64 L275.73,152.94 L275.53,152.12 L275.29,151.24 L275.09,150.41 L274.79,149.47 L274.49,148.50 L274.27,147.64 L273.99,146.69 L273.77,145.80 L273.70,145.07 L273.68,144.39 L273.83,143.88 L274.14,143.56 L274.60,143.40 L275.18,143.38 L275.80,143.41 L276.52,143.55 L277.27,143.72 L277.96,143.84 L278.72,144.04 L279.47,144.24 L280.17,144.38 L280.92,144.59 L281.67,144.80 L282.35,144.94 L283.09,145.14 L283.81,145.34 L284.45,145.45 L285.13,145.60 L285.78,145.72 L286.35,145.75 L286.93,145.79 L287.48,145.80 L287.97,145.75 L288.47,145.70 L288.94,145.62 L289.37,145.49 L289.81,145.37 L290.22,145.23 L290.61,145.05 L290.99,144.87 L291.36,144.67 L291.71,144.44 L292.06,144.21 L292.38,143.95 L292.70,143.68 L293.00,143.39 L293.29,143.09 L293.58,142.77 L293.84,142.42 L294.08,142.05 L294.33,141.68 L294.54,141.27 L294.74,140.82 L294.94,140.38 L295.09,139.88 L295.22,139.33 L295.35,138.78 L295.41,138.13 L295.43,137.41 L295.46,136.71 L295.40,135.86 L295.30,134.95 L295.25,134.10 L295.11,133.12 L294.96,132.11 L294.89,131.22 L294.77,130.24 L294.70,129.32 L294.75,128.58 L294.84,127.91 L295.07,127.43 L295.43,127.16 L295.90,127.07 L296.48,127.15 L297.09,127.28 L297.78,127.54 L298.48,127.83 L299.14,128.06 L299.85,128.38 L300.57,128.71 L301.23,128.96 L301.93,129.29 L302.63,129.62 L303.28,129.86 L303.97,130.19 L304.65,130.50 L305.27,130.71 L305.91,130.97 L306.52,131.19 L307.08,131.32 L307.64,131.46 L308.18,131.56 L308.68,131.58 L309.17,131.61 L309.65,131.61 L310.09,131.56 L310.54,131.51 L310.97,131.43 L311.38,131.32 L311.79,131.21 L312.19,131.07 L312.57,130.90 L312.94,130.73 L313.31,130.53 L313.66,130.31 L314.01,130.08 L314.34,129.82 L314.67,129.55 L314.98,129.25 L315.29,128.93 L315.59,128.60 L315.87,128.22 L316.13,127.82 L316.40,127.42 L316.63,126.94 L316.85,126.42 L317.07,125.90 L317.23,125.26 L317.37,124.56 L317.51,123.87 L317.59,123.02 L317.64,122.11 L317.73,121.26 L317.75,120.26 L317.77,119.24 L317.85,118.35 L317.89,117.36 L317.97,116.44 L318.14,115.71 L318.34,115.06 L318.64,114.63 L319.04,114.42 L319.52,114.41 L320.08,114.59 L320.65,114.82 L321.28,115.18 L321.93,115.59 L322.54,115.93 L323.19,116.36 L323.83,116.80 L324.44,117.15 L325.08,117.60 L325.72,118.04 L326.31,118.39 L326.94,118.82 L327.55,119.24 L328.13,119.56 L328.71,119.92 L329.28,120.24 L329.81,120.45 L330.34,120.69 L330.85,120.88 L331.33,120.98 L331.82,121.09 L332.28,121.17 L332.73,121.20 L333.18,121.22 L333.61,121.22 L334.04,121.17 L334.46,121.13 L334.87,121.06 L335.27,120.96 L335.67,120.84 L336.06,120.71 L336.44,120.56 L336.82,120.38 L337.19,120.18 L337.55,119.97 L337.91,119.73 L338.26,119.46 L338.61,119.19 L338.94,118.86 L339.27,118.50 L339.60,118.15 L339.91,117.72 L340.20,117.24 L340.50,116.76 L340.77,116.17 L341.01,115.49 L341.27,114.83 L341.48,114.01 L341.68,113.12 L341.90,112.29 L342.09,111.31 L342.27,110.31 L342.50,109.44 L342.70,108.47 L342.92,107.57 L343.21,106.89 L343.51,106.28 L343.88,105.90 L344.30,105.76 L344.77,105.84 L345.29,106.10 L345.82,106.42 L346.38,106.89 L346.95,107.40 L347.50,107.84 L348.06,108.38 L348.62,108.92 L349.16,109.37 L349.72,109.91 L350.27,110.45 L350.80,110.90 L351.34,111.44 L351.88,111.95 L352.39,112.36 L352.91,112.81 L353.42,113.23 L353.90,113.53 L354.38,113.85 L354.86,114.12 L355.31,114.30 L355.77,114.50 L356.21,114.65 L356.65,114.75 L357.08,114.85 L357.51,114.92 L357.94,114.95 L358.36,114.97 L358.77,114.97 L359.18,114.94 L359.59,114.90 L359.99,114.83 L360.40,114.75 L360.80,114.64 L361.19,114.50 L361.58,114.36 L361.97,114.18 L362.36,113.97 L362.75,113.76 L363.13,113.50 L363.51,113.20 L363.89,112.91 L364.26,112.54 L364.63,112.11 L365.00,111.69 L365.36,111.15 L365.71,110.53 L366.07,109.92 L366.41,109.15 L366.75,108.30 L367.10,107.52 L367.44,106.58 L367.79,105.63 L368.15,104.81 L368.50,103.89 L368.87,103.04 L369.26,102.42 L369.66,101.87 Z" fill="none" stroke="#000" stroke-width="3.7" stroke-linejoin="round"/><path d="M364.45,179.08 L370.50,195.20 L395.10,195.20 L400.92,178.88 A46.4,46.4 0 1 1 464.97,245.39 L448.90,251.50 L448.90,276.10 L464.80,282.42 A46.4,46.4 0 1 1 398.86,347.12 L393.80,330.20 L369.20,330.20 L363.52,346.63 A46.4,46.4 0 1 1 298.12,281.32 L313.60,274.50 L313.60,249.90 L297.87,243.40 A46.4,46.4 0 1 1 364.45,179.08 Z" fill="none" stroke="#000" stroke-width="3.2" stroke-linejoin="round"/><circle cx="381.8" cy="262.9" r="85.1" fill="none" stroke="#000" stroke-width="2.6" stroke-dasharray="7.5 2.6 1.6 2.8"/><path d="M363.8,178.29999999999998 L401.8,178.29999999999998" stroke="#000" stroke-width="2.8"/><circle cx="382.8" cy="177.7" r="9.3" fill="#fff" stroke="#000" stroke-width="3.3"/><path d="M382.8,169.7 L382.8,179.2 M382.8,183.7 L382.8,189.7 M375.8,177.7 L378.3,177.7 M387.3,177.7 L389.8,177.7" stroke="#000" stroke-width="2.6"/><circle cx="382.8" cy="178.2" r="2.3" fill="#000"/><path d="M362.5,348.3 L400.5,348.3" stroke="#000" stroke-width="2.8"/><circle cx="381.5" cy="347.7" r="9.3" fill="#fff" stroke="#000" stroke-width="3.3"/><path d="M381.5,339.7 L381.5,349.2 M381.5,353.7 L381.5,359.7 M374.5,347.7 L377.0,347.7 M386.0,347.7 L388.5,347.7" stroke="#000" stroke-width="2.6"/><circle cx="381.5" cy="348.2" r="2.3" fill="#000"/><circle cx="296.1" cy="262.2" r="9.3" fill="#fff" stroke="#000" stroke-width="3.3"/><path d="M296.1,254.2 L296.1,263.7 M296.1,268.2 L296.1,274.2 M289.1,262.2 L291.6,262.2 M300.6,262.2 L303.1,262.2" stroke="#000" stroke-width="2.6"/><circle cx="296.1" cy="262.7" r="2.3" fill="#000"/><circle cx="466.4" cy="263.8" r="9.3" fill="#fff" stroke="#000" stroke-width="3.3"/><path d="M466.4,255.8 L466.4,265.3 M466.4,269.8 L466.4,275.8 M459.4,263.8 L461.9,263.8 M470.9,263.8 L473.4,263.8" stroke="#000" stroke-width="2.6"/><circle cx="466.4" cy="264.3" r="2.3" fill="#000"/><path d="M527,260.5 L543,264.5 L527,268.5 Z" fill="#000"/><path d="M219.5,261.6 L228.5,257.8 L228.5,265.4 Z" fill="#000"/><line x1="204" y1="261.7" x2="286" y2="262.0" stroke="#000" stroke-width="3" stroke-dasharray="7.5 2.6 1.6 2.8"/><line x1="306" y1="262.3" x2="342" y2="262.5" stroke="#000" stroke-width="3" stroke-dasharray="7.5 2.6 1.6 2.8"/><line x1="419" y1="263.3" x2="456" y2="263.6" stroke="#000" stroke-width="3" stroke-dasharray="7.5 2.6 1.6 2.8"/><line x1="477" y1="263.9" x2="554.3" y2="264.3" stroke="#000" stroke-width="3" stroke-dasharray="7.5 2.6 1.6 2.8"/><line x1="383.4" y1="84.6" x2="382.9" y2="168" stroke="#000" stroke-width="3" stroke-dasharray="7.5 2.6 1.6 2.8"/><line x1="382.7" y1="197" x2="382.5" y2="233.5" stroke="#000" stroke-width="3" stroke-dasharray="7.5 2.6 1.6 2.8"/><line x1="382.1" y1="282" x2="381.9" y2="338" stroke="#000" stroke-width="3" stroke-dasharray="7.5 2.6 1.6 2.8"/><line x1="381.6" y1="357" x2="381.2" y2="439.8" stroke="#000" stroke-width="3" stroke-dasharray="7.5 2.6 1.6 2.8"/><line x1="316.2" y1="276.3" x2="447.8" y2="251.7" stroke="#000" stroke-width="2.8"/><path d="M298.5,279.6 L321.2,281.3 L319.1,269.9 Z" fill="#000"/><path d="M465.5,248.4 L442.8,246.7 L444.9,258.1 Z" fill="#000"/>
<g transform="translate(378.5,258.5) rotate(-10.58)" font-family="Liberation Sans"><path d="M-19.2,-11.3 L-15.3,-14.6 L-15.4,0.6" fill="none" stroke="#000" stroke-width="3.4" stroke-linecap="round" stroke-linejoin="round"/><text font-size="2048" transform="translate(-7.57,2.84) scale(0.00989,0.01310)" stroke="#000" stroke-width="2.0" vector-effect="non-scaling-stroke" stroke-linejoin="round">3</text><text font-size="2048" transform="translate(8.61,1.76) scale(0.01113,0.01193)" stroke="#000" stroke-width="2.0" vector-effect="non-scaling-stroke" stroke-linejoin="round">0</text></g>
</svg></body></html>
